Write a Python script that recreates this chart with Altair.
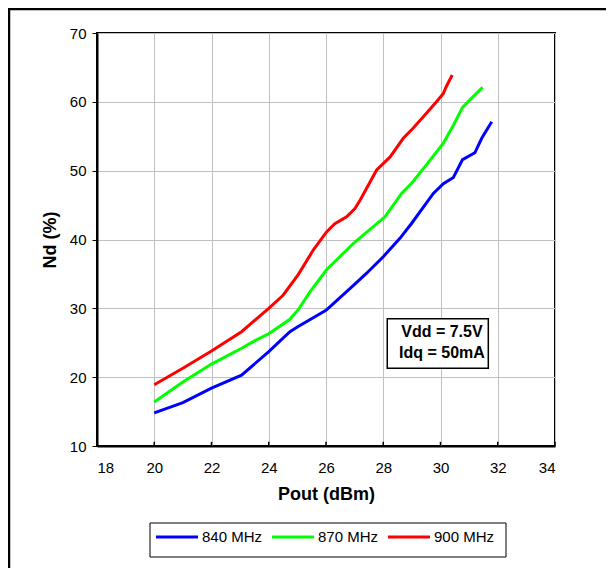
import altair as alt
import pandas as pd

FONT = "Liberation Sans"

series = ["840 MHz", "870 MHz", "900 MHz"]
colors = ["#0000ff", "#00ff00", "#ff0000"]

p840 = [20.0, 21.0, 22.0, 23.05, 24.0, 24.74, 25.0, 26.0, 26.95, 27.42, 28.0, 28.59, 29.0, 29.75, 30.1, 30.45, 30.77, 31.2, 31.44, 31.79]
n840 = [14.8, 16.3, 18.4, 20.3, 23.7, 26.6, 27.3, 29.7, 33.3, 35.1, 37.5, 40.2, 42.4, 46.7, 48.1, 49.0, 51.6, 52.6, 54.7, 57.1]

p870 = [20.0, 21.0, 22.0, 23.05, 23.52, 24.0, 24.74, 25.03, 25.44, 26.02, 27.0, 28.06, 28.64, 29.0, 29.5, 30.1, 30.45, 30.77, 31.03, 31.47]
n870 = [16.4, 19.3, 21.9, 24.2, 25.3, 26.3, 28.4, 29.8, 32.4, 35.6, 39.6, 43.3, 46.7, 48.2, 50.8, 54.0, 56.6, 59.2, 60.3, 62.1]

p900 = [20.0, 21.0, 22.0, 23.05, 24.0, 24.5, 25.03, 25.56, 26.02, 26.31, 26.72, 27.01, 27.19, 27.77, 28.24, 28.7, 29.05, 29.5, 29.86, 30.1, 30.2, 30.41]
n900 = [18.9, 21.3, 23.8, 26.6, 30.0, 31.9, 34.9, 38.5, 41.1, 42.3, 43.3, 44.5, 45.7, 50.1, 52.0, 54.7, 56.2, 58.3, 60.0, 61.2, 62.2, 63.9]

x_ticks = list(range(18, 35, 2))
x_grid = list(range(18, 35, 1))
y_ticks = list(range(10, 71, 10))

note_lines = ["Vdd = 7.5V", "Idq = 50mA"]
note_x = [30.05, 30.05]
note_y = [26.6, 23.45]
note_box = {"x": 28.14, "x2": 31.67, "y": 21.3, "y2": 28.5}

rows = []
for name, ps, ns in zip(series, [p840, p870, p900], [n840, n870, n900]):
    for i, (p, n) in enumerate(zip(ps, ns)):
        rows.append({"Pout": p, "Nd": n, "Series": name, "order": i})
df = pd.DataFrame(rows)

xscale = alt.Scale(domain=[18, 34], nice=False, zero=False)
yscale = alt.Scale(domain=[10, 70], nice=False, zero=False)
cscale = alt.Scale(domain=series, range=colors)

xaxis = alt.Axis(values=x_grid, labelExpr="datum.value % 2 == 0 ? datum.label : ''",
                 ticks=False, labelPadding=14, title="Pout (dBm)", titlePadding=10,
                 grid=True, gridColor="#c0c0c0", gridWidth=1,
                 domain=True, domainColor="#000", domainWidth=2)
yaxis = alt.Axis(values=y_ticks, tickSize=5, tickColor="#000", labelPadding=6,
                 title="Nd (%)", titlePadding=10,
                 grid=True, gridColor="#c0c0c0", gridWidth=1,
                 domain=True, domainColor="#000", domainWidth=2)

lines = alt.Chart(df).mark_line(strokeWidth=3).encode(
    x=alt.X("Pout:Q", scale=xscale, axis=xaxis),
    y=alt.Y("Nd:Q", scale=yscale, axis=yaxis),
    color=alt.Color("Series:N", scale=cscale, legend=None),
    order="order:Q",
)

tick_df = pd.DataFrame({"x": x_ticks, "y": [10] * len(x_ticks), "y2": [10.6] * len(x_ticks)})
ticks = alt.Chart(tick_df).mark_rule(color="#000", strokeWidth=1.5).encode(
    x=alt.X("x:Q", scale=xscale), y=alt.Y("y:Q", scale=yscale), y2="y2:Q")

box_df = pd.DataFrame([note_box])
box = alt.Chart(box_df).mark_rect(fill="white", stroke="#000", strokeWidth=1.5).encode(
    x=alt.X("x:Q", scale=xscale), x2="x2:Q",
    y=alt.Y("y:Q", scale=yscale), y2="y2:Q")

note_df = pd.DataFrame({"t": note_lines, "x": note_x, "y": note_y})
note = alt.Chart(note_df).mark_text(font=FONT, fontSize=16, fontWeight="bold",
                                     color="#000", baseline="middle", align="center").encode(
    x=alt.X("x:Q", scale=xscale), y=alt.Y("y:Q", scale=yscale), text="t:N")

frame = alt.Chart(pd.DataFrame({"a": [0]})).mark_rect(
    fill=None, stroke="#000", strokeWidth=2.5, filled=False).encode(
    x=alt.value(-88), x2=alt.value(700), y=alt.value(-24), y2=alt.value(700))

# custom legend (box + line swatches + labels), colours from the series scale
leg_box = alt.Chart(pd.DataFrame({"a": [0]})).mark_rect(
    fill="white", stroke="#000", strokeWidth=1, filled=True).encode(
    x=alt.value(53), x2=alt.value(409), y=alt.value(490), y2=alt.value(524))
leg_items = []
sw_x = [59, 175, 291]
for name, sx in zip(series, sw_x):
    d = pd.DataFrame({"Series": [name]})
    leg_items.append(alt.Chart(d).mark_rule(strokeWidth=3).encode(
        x=alt.value(sx), x2=alt.value(sx + 42), y=alt.value(504),
        color=alt.Color("Series:N", scale=cscale, legend=None)))
    leg_items.append(alt.Chart(d).mark_text(font=FONT, fontSize=15, color="#000",
                                            align="left", baseline="middle").encode(
        x=alt.value(sx + 46), y=alt.value(504), text="Series:N"))

chart = alt.layer(frame, lines, ticks, box, note, leg_box, *leg_items).properties(
    width=458, height=413,
    padding={"left": 89, "top": 25, "right": 51, "bottom": 122},
    autosize=alt.AutoSizeParams(type="none"),
    background="white",
).configure_view(
    stroke="#000", strokeWidth=2
).configure_axis(
    labelFont=FONT, labelFontSize=15, labelColor="#000",
    titleFont=FONT, titleFontSize=18, titleFontWeight="bold", titleColor="#000",
)

chart.save("out.html", embed_options={"renderer": "svg", "actions": False})
